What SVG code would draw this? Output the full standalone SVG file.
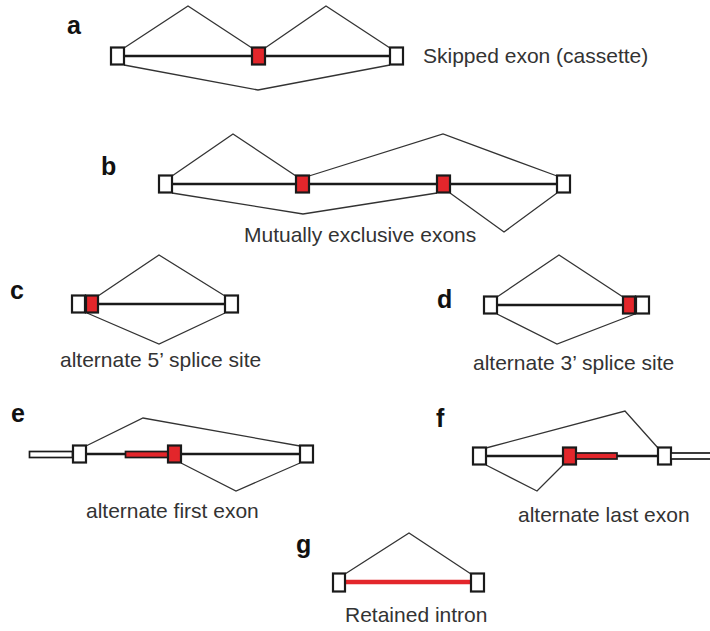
<svg xmlns="http://www.w3.org/2000/svg" width="710" height="631" viewBox="0 0 710 631">
<style>
.bg{fill:#fff}
.ex{fill:#fff;stroke:#1a1a1a;stroke-width:2.2}
.rd{fill:#e3262b;stroke:#1a1a1a;stroke-width:2.2}
.bar{fill:#fff;stroke:#1a1a1a;stroke-width:1.7}
.rbar{fill:#e3262b;stroke:#1a1a1a;stroke-width:1.7}
.intron{stroke:#1a1a1a;stroke-width:2.4;fill:none}
.sp{stroke:#333;stroke-width:1.3;fill:none;stroke-linejoin:miter}
.ri{stroke:#e3262b;stroke-width:4.5;fill:none}
.lbl{font-family:"Liberation Sans",Arial,sans-serif;font-weight:bold;font-size:25px;fill:#111}
.cap{font-family:"Liberation Sans",Arial,sans-serif;font-size:21px;fill:#333}
</style>
<rect class="bg" x="0" y="0" width="710" height="631"/>

<g id="connectors">
  <!-- a -->
  <line class="intron" x1="124" y1="56" x2="390" y2="56"/>
  <path class="sp" d="M124,48 L188,6 L252,48 M265,48 L326,6 L390,48 M124,65 L258,90 L390,65"/>
  <!-- b -->
  <line class="intron" x1="172" y1="184" x2="557" y2="184"/>
  <path class="sp" d="M172,176 L233,134 L296,176 M309,176 L443,134 L557,176 M172,193 L303,214 L437,193 M450,193 L504,232 L557,193"/>
  <!-- c -->
  <line class="intron" x1="98" y1="304" x2="225" y2="304"/>
  <path class="sp" d="M98,296 L159,255 L225,296 M87,313 L159,344 L225,313"/>
  <!-- d -->
  <line class="intron" x1="497" y1="305" x2="623" y2="305"/>
  <path class="sp" d="M497,297 L559,255 L623,297 M497,314 L557,344 L635,314"/>
  <!-- e -->
  <line class="intron" x1="86" y1="454" x2="300" y2="454"/>
  <path class="sp" d="M86,446 L143,418 L300,446 M181,463 L236,491 L300,463"/>
  <!-- f -->
  <line class="intron" x1="486" y1="456" x2="658" y2="456"/>
  <path class="sp" d="M486,448 L625,411 L658,448 M486,465 L537,491 L563,465"/>
  <!-- g -->
  <line class="ri" x1="345" y1="582" x2="471" y2="582"/>
  <path class="sp" d="M345,574 L409,533 L471,574"/>
</g>

<g id="a">
  <text class="lbl" x="67" y="34">a</text>
  <rect class="ex" x="111" y="47.5" width="13" height="17"/>
  <rect class="rd" x="252" y="47.5" width="13" height="17"/>
  <rect class="ex" x="390" y="47.5" width="13" height="17"/>
  <text class="cap" x="423" y="63">Skipped exon (cassette)</text>
</g>

<g id="b">
  <text class="lbl" x="101" y="175">b</text>
  <rect class="ex" x="159" y="175.5" width="13" height="17"/>
  <rect class="rd" x="296" y="175.5" width="13" height="17"/>
  <rect class="rd" x="437" y="175.5" width="13" height="17"/>
  <rect class="ex" x="557" y="175.5" width="13" height="17"/>
  <text class="cap" x="244" y="242">Mutually exclusive exons</text>
</g>

<g id="c">
  <text class="lbl" x="10" y="299">c</text>
  <rect class="ex" x="72" y="295.5" width="13" height="17"/>
  <rect class="rd" x="86" y="295.5" width="12" height="17"/>
  <rect class="ex" x="225" y="295.5" width="13" height="17"/>
  <text class="cap" x="60" y="367">alternate 5’ splice site</text>
</g>

<g id="d">
  <text class="lbl" x="437" y="308">d</text>
  <rect class="ex" x="484" y="296.5" width="13" height="17"/>
  <rect class="rd" x="623" y="296.5" width="12" height="17"/>
  <rect class="ex" x="636" y="296.5" width="13" height="17"/>
  <text class="cap" x="473" y="370">alternate 3’ splice site</text>
</g>

<g id="e">
  <text class="lbl" x="11" y="422">e</text>
  <rect class="bar" x="29.5" y="451.5" width="43" height="6"/>
  <rect class="ex" x="73" y="445.5" width="13" height="17"/>
  <rect class="rbar" x="125.5" y="451.5" width="42.5" height="6"/>
  <rect class="rd" x="168" y="445.5" width="13" height="17"/>
  <rect class="ex" x="300" y="445.5" width="13" height="17"/>
  <text class="cap" x="86" y="518">alternate first exon</text>
</g>

<g id="f">
  <text class="lbl" x="436" y="427">f</text>
  <rect class="ex" x="473" y="447.5" width="13" height="17"/>
  <rect class="rd" x="563" y="447.5" width="13" height="17"/>
  <rect class="rbar" x="576" y="453" width="41" height="6"/>
  <rect class="ex" x="658" y="447.5" width="13" height="17"/>
  <rect class="bar" x="671" y="453" width="45" height="6"/>
  <text class="cap" x="518" y="522">alternate last exon</text>
</g>

<g id="g">
  <text class="lbl" x="296" y="553">g</text>
  <rect class="ex" x="333" y="573.5" width="12" height="18"/>
  <rect class="ex" x="471" y="573.5" width="13" height="18"/>
  <text class="cap" x="345" y="622">Retained intron</text>
</g>
</svg>
